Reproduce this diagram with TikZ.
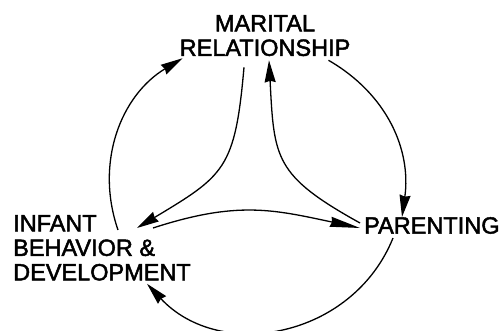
\documentclass[tikz,border=0pt]{standalone}
\usepackage{fontspec}
\newfontfamily\lettering{Liberation Sans}[FakeBold=2]
\usetikzlibrary{arrows.meta}

\tikzset{
  boxtext/.style={inner sep=0pt, font=\lettering\fontsize{23.5}{24.5}\selectfont},
  link/.style={line width=1.3pt, -{Stealth[length=22pt, width=11pt, inset=1.5pt]}}
}

\begin{document}
\begin{tikzpicture}[x=1pt, y=1pt]
        \useasboundingbox (0,0) rectangle (501,331);

        % Draw nodes
        \node[boxtext, align=center, anchor=north] (marital) at (265,316) {MARITAL\\RELATIONSHIP};
        \node[boxtext, align=left, anchor=north west] (infant) at (13,116) {INFANT\\BEHAVIOR \&\\DEVELOPMENT};
        \node[boxtext, anchor=north west] (parenting) at (364,114) {PARENTING};

        % Connector ends
        \coordinate (m1) at ([shift={(3pt,-2pt)}]marital.south west);
        \coordinate (m2) at ([shift={(-21pt,-11pt)}]marital.south);
        \coordinate (m3) at ([shift={(4pt,-4pt)}]marital.south);
        \coordinate (m4) at ([shift={(-22pt,-4pt)}]marital.south east);
        \coordinate (i1) at ([shift={(105pt,-15pt)}]infant.north west);
        \coordinate (i2) at ([shift={(124pt,-13pt)}]infant.north west);
        \coordinate (i3) at ([shift={(140pt,-13pt)}]infant.north west);
        \coordinate (i4) at ([shift={(134pt,-3pt)}]infant.south west);
        \coordinate (p1) at ([shift={(38pt,0pt)}]parenting.north west);
        \coordinate (p2) at ([shift={(-4pt,-6pt)}]parenting.north west);
        \coordinate (p3) at ([shift={(-4pt,-11pt)}]parenting.north west);
        \coordinate (p4) at ([shift={(29pt,-4pt)}]parenting.south west);

        % Draw connections
        \draw[link] (i1) to[out=109, in=211] (m1);
        \draw[link] (m4) to[out=-30, in=82] (p1);
        \draw[link] (p4) to[out=-112, in=-47, looseness=1.1] (i4);
        \draw[link] (m2) to[out=-95, in=31, looseness=1.35] (i2);
        \draw[link] (p2) to[out=151, in=-87, looseness=1.35] (m3);
        \draw[link, -{Stealth[length=30pt, width=10pt, inset=1.5pt]}] (i3) to[out=18, in=168, looseness=1.1] (p3);
    \end{tikzpicture}
\end{document}
